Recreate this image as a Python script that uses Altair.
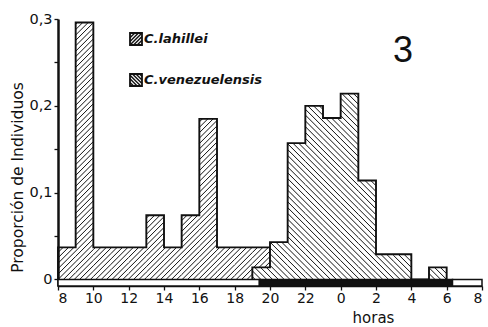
import altair as alt
import numpy as np
import pandas as pd

# Hourly proportions; each bin starts at the given clock hour and lasts one hour
lah_hours = [8, 9, 10, 11, 12, 13, 14, 15, 16, 17, 18, 19]
lah_vals = [0.037, 0.296, 0.037, 0.037, 0.037, 0.074, 0.037, 0.074, 0.185, 0.037, 0.037, 0.037]
ven_hours = [19, 20, 21, 22, 23, 0, 1, 2, 3, 4, 5]
ven_vals = [0.014, 0.043, 0.157, 0.200, 0.186, 0.214, 0.114, 0.029, 0.029, 0.0, 0.014]

# Light / dark periods on the time strip (clock hours)
night_start = 19.4
night_end = 6.33

legend_names = ["C.lahillei", "C.venezuelensis"]
panel_label = "3"

# Plot geometry
W, H = 424, 267
PAD_L, PAD_T = 58, 19
START = 8            # axis starts at 08:00 and runs for 24 h
Y_MIN, Y_MAX = -0.0075, 0.3
KX = W / 24.0
KY = H / (Y_MAX - Y_MIN)

FONT = "DejaVu Sans"
INK = "#111111"


def off(h):
    return (h - START) % 24


def segments(X0, X1, Ht, spacing, direction):
    """45-degree hatch segments clipped to a box (pixel units, y up)."""
    out = []
    if Ht <= 0:
        return out
    if direction > 0:
        c_lo, c_hi = X0 - Ht, X1
    else:
        c_lo, c_hi = X0, X1 + Ht
    for k in range(int(np.ceil(c_lo / spacing)), int(np.floor(c_hi / spacing)) + 1):
        c = k * spacing
        if direction > 0:
            xa, xb = max(X0, c), min(X1, c + Ht)
            ya, yb = xa - c, xb - c
        else:
            xa, xb = max(X0, c - Ht), min(X1, c)
            ya, yb = c - xa, c - xb
        if xb - xa > 0.4:
            out.append((xa, ya, xb, yb))
    return out


def bar_table(hours, vals):
    return pd.DataFrame({
        "x": [off(h) for h in hours],
        "x2": [off(h) + 1 for h in hours],
        "y": [0.0] * len(hours),
        "y2": vals,
    })


def hatch_table(bars, spacing, direction):
    rows = []
    for r in bars.itertuples():
        for xa, ya, xb, yb in segments(r.x * KX, r.x2 * KX, r.y2 * KY, spacing, direction):
            rows.append({"x": xa / KX, "x2": xb / KX, "y": ya / KY, "y2": yb / KY})
    return pd.DataFrame(rows)


def outline_table(hours, vals):
    xs = [off(hours[0])] + [off(h) for h in hours] + [off(hours[-1]) + 1]
    ys = [0.0] + list(vals) + [0.0]
    return pd.DataFrame({"x": xs, "y": ys, "i": range(len(xs))})


lah_bars = bar_table(lah_hours, lah_vals)
ven_bars = bar_table(ven_hours, ven_vals)
lah_hatch = hatch_table(lah_bars, 5.4, 1)
ven_hatch = hatch_table(ven_bars, 5.8, -1)
lah_line = outline_table(lah_hours, lah_vals)
ven_line = outline_table(ven_hours, ven_vals)

xs = alt.Scale(domain=[0, 24], nice=False, zero=False)
ys = alt.Scale(domain=[Y_MIN, Y_MAX], nice=False, zero=False)

x_axis = alt.Axis(
    values=list(range(0, 25, 2)),
    labelExpr="(datum.value + 8) % 24",
    title="horas", titleX=315, titleY=31, titleBaseline="middle",
    titleFont=FONT, titleFontSize=15, titleFontWeight="normal", titleColor=INK,
    labelFont=FONT, labelFontSize=14, labelColor=INK, labelPadding=1,
    tickSize=4, tickWidth=1.3, tickColor=INK,
    domainColor=INK, domainWidth=1.5, grid=False,
)
y_axis = alt.Axis(
    values=[0, 0.05, 0.1, 0.15, 0.2, 0.25, 0.3],
    labelExpr="datum.value == 0 ? '0' : (round(datum.value * 20) % 2 ? '' : replace(format(datum.value, '.1f'), '.', ','))",
    title="Proporción de Individuos", titleX=-41, titleY=158, titleBaseline="middle",
    titleFont=FONT, titleFontSize=15.5, titleFontWeight="normal", titleColor=INK,
    labelFont=FONT, labelFontSize=14.5, labelColor=INK, labelPadding=2,
    tickSize=4, tickWidth=1.3, tickColor=INK,
    domainColor=INK, domainWidth=2.5, grid=False,
)


def X(field="x"):
    return alt.X(f"{field}:Q", scale=xs, axis=x_axis)


def Y(field="y"):
    return alt.Y(f"{field}:Q", scale=ys, axis=y_axis)


def rules(df, width=1.0):
    return alt.Chart(df).mark_rule(color=INK, strokeWidth=width).encode(
        x=X(), x2="x2", y=Y(), y2="y2",
    )


def outline(df):
    return alt.Chart(df).mark_line(color=INK, strokeWidth=1.9, interpolate="step-after").encode(
        x=X(), y=Y(), order="i:O",
    )


# White backing for C. venezuelensis so it covers the bars behind it
ven_fill = alt.Chart(ven_bars).mark_rect(color="white").encode(
    x=X(), x2="x2", y=Y(), y2="y2",
)

# Light / dark strip below the baseline
strip = pd.DataFrame({
    "x": [0, off(night_start), off(night_end)],
    "x2": [off(night_start), off(night_end), 24],
    "y": [Y_MIN] * 3, "y2": [0.0] * 3,
    "phase": ["dia", "noche", "dia"],
})
strip_layer = alt.Chart(strip).mark_rect(stroke=INK, strokeWidth=1.5).encode(
    x=X(), x2="x2", y=Y(), y2="y2",
    fill=alt.Fill("phase:N", scale=alt.Scale(domain=["dia", "noche"], range=["white", INK]), legend=None),
)

# Hand-built legend (pixel positions inside the plot area)
box = 12
leg_boxes = pd.DataFrame({
    "name": legend_names,
    "bx": [130 - PAD_L, 130 - PAD_L],
    "by": [33 - PAD_T, 74 - PAD_T],
})
leg_boxes["bx2"] = leg_boxes["bx"] + box
leg_boxes["by2"] = leg_boxes["by"] + box
leg_boxes["tx"] = leg_boxes["bx2"] + 2
leg_boxes["ty"] = leg_boxes["by"] + box / 2

leg_rows = []
for r, d in zip(leg_boxes.itertuples(), [1, -1]):
    for xa, ya, xb, yb in segments(r.bx, r.bx2, box, 3.6, d):
        leg_rows.append({"x": xa, "x2": xb, "y": r.by2 - ya, "y2": r.by2 - yb})
leg_hatch = pd.DataFrame(leg_rows)

leg_hatch_layer = alt.Chart(leg_hatch).mark_rule(color=INK, strokeWidth=1.4).encode(
    x=alt.X("x:Q", scale=None), x2="x2",
    y=alt.Y("y:Q", scale=None), y2="y2",
)
leg_box_layer = alt.Chart(leg_boxes).mark_rect(fill=None, stroke=INK, strokeWidth=1.8).encode(
    x=alt.X("bx:Q", scale=None), x2="bx2",
    y=alt.Y("by:Q", scale=None), y2="by2",
)
leg_text_layer = alt.Chart(leg_boxes).mark_text(
    align="left", baseline="middle", font=FONT, fontSize=13, fontStyle="italic",
    fontWeight="bold", color=INK,
).encode(
    x=alt.X("tx:Q", scale=None), y=alt.Y("ty:Q", scale=None), text="name:N",
)

label_layer = alt.Chart(pd.DataFrame({"t": [panel_label]})).mark_text(
    font="Liberation Sans", fontSize=36, color=INK, align="center", baseline="middle",
).encode(x=alt.value(403 - PAD_L), y=alt.value(51 - PAD_T), text="t:N")

chart = alt.layer(
    rules(lah_hatch, 1.0),
    outline(lah_line),
    ven_fill,
    rules(ven_hatch, 1.0),
    outline(ven_line),
    strip_layer,
    leg_hatch_layer,
    leg_box_layer,
    leg_text_layer,
    label_layer,
).properties(
    width=W, height=H,
    autosize=alt.AutoSizeParams(type="none"),
    padding={"left": PAD_L, "top": PAD_T, "right": 488 - PAD_L - W, "bottom": 327 - PAD_T - H},
    background="white",
).configure_view(stroke=None)

chart.save("out.html", embed_options={"renderer": "svg", "actions": False})
